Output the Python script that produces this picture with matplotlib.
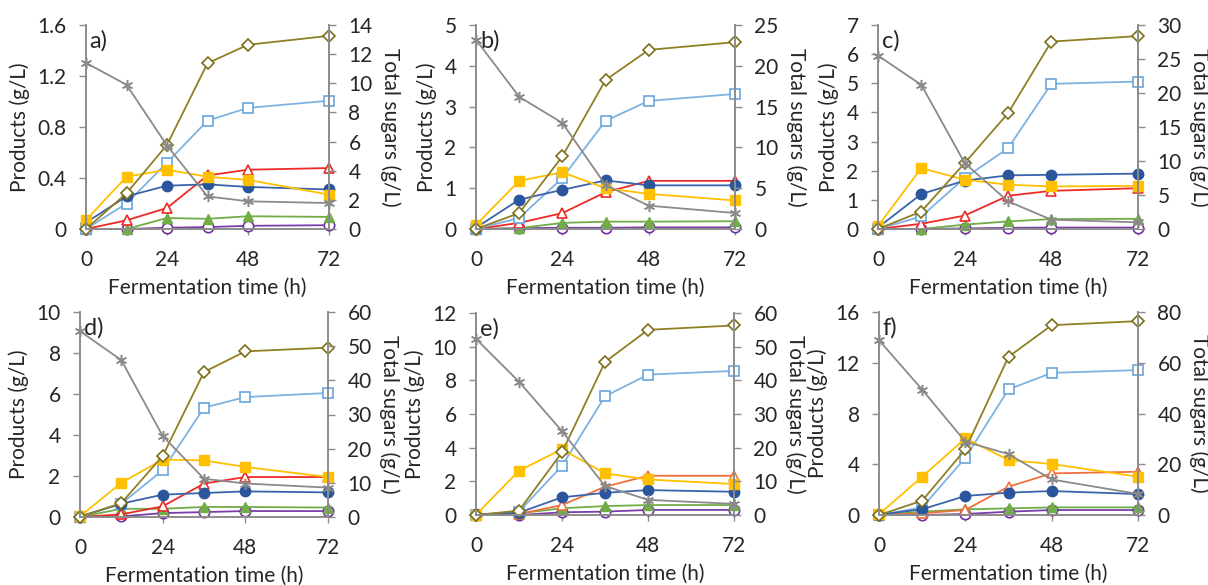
import matplotlib
matplotlib.use("Agg")
import matplotlib.pyplot as plt

plt.rcParams['font.family'] = ['Lato', 'DejaVu Sans']

time_h = [0, 12, 24, 36, 48, 72]
panel_labels = ['a)', 'b)', 'c)', 'd)', 'e)', 'f)']
left_max = [1.6, 5, 7, 10, 12, 16]
left_ticks = [[0, 0.4, 0.8, 1.2, 1.6], [0, 1, 2, 3, 4, 5], [0, 1, 2, 3, 4, 5, 6, 7],
              [0, 2, 4, 6, 8, 10], [0, 2, 4, 6, 8, 10, 12], [0, 4, 8, 12, 16]]
right_max = [14, 25, 30, 60, 60, 80]
right_ticks = [[0, 2, 4, 6, 8, 10, 12, 14], [0, 5, 10, 15, 20, 25], [0, 5, 10, 15, 20, 25, 30],
               [0, 10, 20, 30, 40, 50, 60], [0, 10, 20, 30, 40, 50, 60], [0, 20, 40, 60, 80]]
x_ticks = [0, 24, 48, 72]

# series per panel (a..f)
olive_diamond = [
    [0, 0.28, 0.66, 1.30, 1.445, 1.515],
    [0, 0.39, 1.78, 3.65, 4.39, 4.58],
    [0, 0.60, 2.26, 3.97, 6.43, 6.62],
    [0, 0.68, 2.98, 7.07, 8.08, 8.26],
    [0, 0.26, 3.72, 9.09, 11.0, 11.26],
    [0, 1.13, 5.17, 12.47, 14.96, 15.28],
]
blue_square = [
    [0, 0.20, 0.52, 0.85, 0.95, 1.006],
    [0, 0.27, 1.25, 2.65, 3.14, 3.31],
    [0, 0.43, 1.75, 2.77, 4.98, 5.06],
    [0, 0.65, 2.28, 5.33, 5.85, 6.05],
    [0, 0.20, 2.92, 7.05, 8.34, 8.56],
    [0, 0.60, 4.51, 9.90, 11.2, 11.42],
]
yellow_square = [
    [0.07, 0.41, 0.465, 0.41, 0.385, 0.27],
    [0.10, 1.18, 1.39, 1.00, 0.86, 0.70],
    [0.10, 2.09, 1.69, 1.52, 1.46, 1.48],
    [0.03, 1.67, 2.80, 2.76, 2.44, 1.95],
    [0.02, 2.63, 3.91, 2.47, 2.11, 1.84],
    [0.05, 3.02, 6.04, 4.33, 4.02, 3.02],
]
navy_circle = [
    [0.05, 0.256, 0.34, 0.35, 0.33, 0.31],
    [0.03, 0.72, 0.96, 1.19, 1.07, 1.07],
    [0.05, 1.20, 1.66, 1.84, 1.86, 1.90],
    [0.03, 0.65, 1.09, 1.17, 1.25, 1.20],
    [0.03, 0.14, 1.05, 1.32, 1.48, 1.38],
    [0.03, 0.45, 1.50, 1.76, 1.89, 1.65],
]
red_triangle = [
    [0, 0.068, 0.165, 0.42, 0.465, 0.478],
    [0, 0.15, 0.39, 0.90, 1.18, 1.18],
    [0, 0.18, 0.46, 1.14, 1.31, 1.40],
    [0, 0.13, 0.52, 1.63, 1.95, 1.95],
    [0, 0.06, 0.59, 1.68, 2.33, 2.33],
    [0, 0.13, 0.40, 2.23, 3.28, 3.41],
]
green_triangle = [
    [0, 0.0, 0.086, 0.08, 0.10, 0.095],
    [0, 0.02, 0.15, 0.18, 0.18, 0.19],
    [0, 0.0, 0.15, 0.26, 0.34, 0.35],
    [0, 0.40, 0.40, 0.49, 0.49, 0.46],
    [0, 0.10, 0.40, 0.53, 0.59, 0.59],
    [0, 0.26, 0.45, 0.52, 0.60, 0.60],
]
purple_circle = [
    [0, 0.0, 0.01, 0.015, 0.025, 0.03],
    [0, 0.02, 0.03, 0.03, 0.04, 0.04],
    [0, 0.0, 0.02, 0.04, 0.05, 0.05],
    [0, 0.03, 0.19, 0.24, 0.29, 0.29],
    [0, 0.0, 0.16, 0.20, 0.30, 0.30],
    [0, 0.0, 0.08, 0.26, 0.39, 0.39],
]
total_sugars = [
    [11.4, 9.9, 5.73, 2.24, 1.9, 1.78],
    [23.2, 16.2, 13.0, 5.4, 2.86, 1.96],
    [25.5, 21.2, 9.7, 4.07, 1.37, 0.98],
    [54.4, 45.9, 23.7, 11.2, 9.8, 8.6],
    [52.3, 39.6, 24.9, 8.6, 4.5, 3.3],
    [68.9, 49.4, 28.9, 24.0, 14.0, 8.3],
]

# panel rectangles in pixels: left, right, top, bottom
W, H = 1208, 585
rects_px = [(86, 329, 25, 229), (476, 735, 25, 229), (878, 1138, 25, 229),
            (80, 328, 312, 517), (476, 734, 313, 515), (879, 1138, 312, 515)]

axis_col = '#8c8c8c'
text_col = '#262626'
FS = 15

fig = plt.figure(figsize=(W / 100, H / 100), dpi=100)

for i in range(6):
    l, r, t, b = rects_px[i]
    ax = fig.add_axes([l / W, (H - b) / H, (r - l) / W, (b - t) / H])
    ax2 = ax.twinx()
    red_col = '#ee2a24' if i < 4 else '#f0703c'

    styles = [
        (purple_circle[i], dict(color='#7a3ea8', marker='o', mfc='white', mec='#7030a0', ms=7.5, mew=1.2)),
        (green_triangle[i], dict(color='#70ad47', marker='^', mfc='#70ad47', mec='#70ad47', ms=6.5)),
        (red_triangle[i], dict(color=red_col, marker='^', mfc='white', mec=red_col, ms=7.5, mew=1.2)),
        (blue_square[i], dict(color='#7fb2e0', marker='s', mfc='white', mec='#6aa6dc', ms=7.5, mew=1.2)),
        (navy_circle[i], dict(color='#3a64aa', marker='o', mfc='#2b559c', mec='#2b559c', ms=7.5)),
        (yellow_square[i], dict(color='#ffc000', marker='s', mfc='#ffc000', mec='#ffc000', ms=7)),
        (olive_diamond[i], dict(color='#8f7f25', marker='D', mfc='white', mec='#7d6e1c', ms=6.5, mew=1.2)),
    ]
    for vals, st in styles:
        ax.plot(time_h, vals, lw=1.3, clip_on=False, **st)

    ax2.plot(time_h, total_sugars[i], color='#8a8a8a', lw=1.3, marker=(6, 2, 0),
             ms=8, mew=1.1, mec='#8a8a8a', clip_on=False)

    ax.set_xlim(0, 72)
    ax.set_ylim(0, left_max[i])
    ax2.set_ylim(0, right_max[i])
    ax.set_xticks(x_ticks)
    ax.set_yticks(left_ticks[i])
    ax2.set_yticks(right_ticks[i])
    ax.set_yticklabels([f'{v:g}' for v in left_ticks[i]])
    ax2.set_yticklabels([f'{v:g}' for v in right_ticks[i]])

    for a in (ax, ax2):
        a.spines['top'].set_visible(False)
        for s in ('left', 'right', 'bottom'):
            a.spines[s].set_color(axis_col)
            a.spines[s].set_linewidth(1.2)
        a.set_facecolor('none')
    ax.tick_params(axis='y', direction='out', length=5, width=1, color=axis_col,
                   labelsize=FS, labelcolor=text_col, pad=9)
    ax2.tick_params(axis='y', direction='out', length=5, width=1, color=axis_col,
                    labelsize=FS, labelcolor=text_col, pad=9)
    ax.tick_params(axis='x', direction='inout', length=8, width=1, color=axis_col,
                   labelsize=FS, labelcolor=text_col, pad=11)

    ax.set_xlabel('Fermentation time (h)', fontsize=FS, color=text_col, labelpad=6)
    ax.set_ylabel('Products (g/L)', fontsize=FS, color=text_col, labelpad=5)
    ax2.set_ylabel('Total sugars (g/L)', fontsize=FS, color=text_col, rotation=270,
                   labelpad=20)
    ax.text(0.015, 0.975, panel_labels[i], transform=ax.transAxes, fontsize=FS + 2,
            color=text_col, ha='left', va='top')

fig.savefig('out.png', dpi=100)
